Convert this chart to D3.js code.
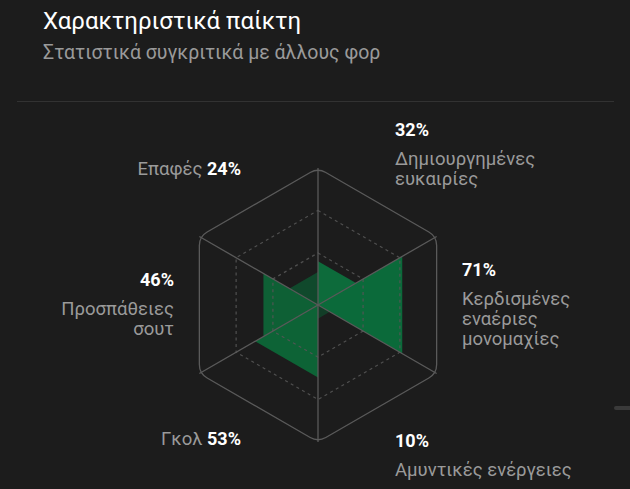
<!DOCTYPE html>
<html>
<head>
<meta charset="utf-8">
<script src="https://cdn.jsdelivr.net/npm/d3@7"></script>
<style>
  html, body { margin: 0; padding: 0; background: #1c1c1c; }
  svg { display: block; }
  text { font-family: Roboto, "Noto Sans", sans-serif; }
</style>
</head>
<body>
<svg id="chart" width="630" height="489"></svg>
<script>
// ---- data ----
const title = "Χαρακτηριστικά παίκτη";
const subtitle = "Στατιστικά συγκριτικά με άλλους φορ";
const categories = [
  "Δημιουργημένες ευκαιρίες",
  "Κερδισμένες εναέριες μονομαχίες",
  "Αμυντικές ενέργειες",
  "Γκολ",
  "Προσπάθειες σουτ",
  "Επαφές"
];
const labelLines = [
  ["Δημιουργημένες", "ευκαιρίες"],
  ["Κερδισμένες", "εναέριες", "μονομαχίες"],
  ["Αμυντικές ενέργειες"],
  ["Γκολ"],
  ["Προσπάθειες", "σουτ"],
  ["Επαφές"]
];
const values = [32, 71, 10, 53, 46, 24];
const gridTicks = [38, 69];
const maxValue = 100;

// ---- styles / layout ----
const wedgeColors = ["#0d6b3b", "#0b6a3a", "#123d27", "#0d6336", "#0e6035", "#10492c"];
const inlineLabel = [false, false, false, true, false, true];
const W = 630, H = 489;
const cx = 318, cy = 305;
const R = 137;
const labelR = 144;

const svg = d3.select("#chart");
svg.append("rect").attr("width", W).attr("height", H).attr("fill", "#1c1c1c");

// header
svg.append("text").attr("x", 43).attr("y", 29)
  .attr("fill", "#ffffff").attr("font-size", 24).text(title);
svg.append("text").attr("x", 43).attr("y", 59)
  .attr("fill", "#9a9a9a").attr("font-size", 19.5).text(subtitle);
svg.append("line").attr("x1", 17).attr("x2", 614).attr("y1", 101.5).attr("y2", 101.5)
  .attr("stroke", "#323232").attr("stroke-width", 1);

// decorative pager bar at right edge
svg.append("rect").attr("x", 614).attr("y", 406).attr("width", 20).attr("height", 4)
  .attr("rx", 2).attr("fill", "#3a3a3a");

const r = d3.scaleLinear().domain([0, maxValue]).range([0, R]);
const n = categories.length;
const step = 2 * Math.PI / n;
const pt = (ang, rad) => [cx + rad * Math.sin(ang), cy - rad * Math.cos(ang)];

const g = svg.append("g");

// wedges
g.selectAll("path.wedge").data(values).join("path")
  .attr("class", "wedge")
  .attr("d", (v, i) => {
    const a0 = i * step, a1 = (i + 1) * step;
    return d3.line()([[cx, cy], pt(a0, r(v)), pt(a1, r(v))]) + "Z";
  })
  .attr("fill", (v, i) => wedgeColors[i]);

// dashed grid hexagons
gridTicks.forEach(t => {
  const pts = d3.range(n).map(k => pt(k * step, r(t)));
  g.append("path")
    .attr("d", d3.line().curve(d3.curveLinearClosed)(pts))
    .attr("fill", "none").attr("stroke", "#555").attr("stroke-width", 1.2)
    .attr("stroke-dasharray", "3,3.5").attr("opacity", 0.9);
});

// axes
g.selectAll("line.axis").data(d3.range(n)).join("line")
  .attr("class", "axis")
  .attr("x1", cx).attr("y1", cy)
  .attr("x2", k => pt(k * step, r(maxValue))[0])
  .attr("y2", k => pt(k * step, r(maxValue))[1])
  .attr("stroke", "#5a5a5a").attr("stroke-width", 1.3);

// outer hexagon with rounded corners
(function () {
  const rc = 9;
  const verts = d3.range(n).map(k => pt(k * step, r(maxValue)));
  const path = d3.path();
  verts.forEach((v, k) => {
    const prev = verts[(k + n - 1) % n], next = verts[(k + 1) % n];
    const d1 = Math.hypot(prev[0] - v[0], prev[1] - v[1]);
    const d2 = Math.hypot(next[0] - v[0], next[1] - v[1]);
    const p1 = [v[0] + (prev[0] - v[0]) * rc / d1, v[1] + (prev[1] - v[1]) * rc / d1];
    const p2 = [v[0] + (next[0] - v[0]) * rc / d2, v[1] + (next[1] - v[1]) * rc / d2];
    if (k === 0) path.moveTo(p1[0], p1[1]); else path.lineTo(p1[0], p1[1]);
    path.quadraticCurveTo(v[0], v[1], p2[0], p2[1]);
  });
  path.closePath();
  g.append("path").attr("d", path.toString())
    .attr("fill", "none").attr("stroke", "#5a5a5a").attr("stroke-width", 1.3);
})();

// labels (one text element per line)
const valueSize = 18, descSize = 18.5, firstGap = 29, lineGap = 20;
categories.forEach((c, i) => {
  const ang = (i + 0.5) * step;
  const [ax, ay] = pt(ang, labelR);
  const s = Math.sin(ang), co = Math.cos(ang);
  const side = s > 0.01 ? 1 : -1;
  const diag = Math.abs(co) > 0.1;
  const x = ax + (diag ? side * 5 : 0);
  const anchor = side > 0 ? "start" : "end";
  const lines = labelLines[i];
  const pct = values[i] + "%";
  if (inlineLabel[i]) {
    const base = co > 0 ? ay - 5 : ay + 15;
    const t = svg.append("text").attr("text-anchor", anchor).attr("x", x).attr("y", base);
    t.append("tspan").attr("fill", "#9a9a9a").attr("font-size", descSize).text(lines.join(" ") + " ");
    t.append("tspan").attr("fill", "#ffffff").attr("font-weight", "bold").attr("font-size", valueSize).text(pct);
  } else {
    const span = firstGap + (lines.length - 1) * lineGap; // first baseline -> last baseline
    let first;
    if (co > 0.1) first = ay + 5 - span;            // upper: bottom aligned
    else if (co < -0.1) first = ay + 17;            // lower: top aligned
    else first = ((ay + 1.5) * 2 + 13 - 5 - span) / 2; // side: centred
    svg.append("text").attr("text-anchor", anchor).attr("x", x).attr("y", first)
      .attr("fill", "#ffffff").attr("font-weight", "bold").attr("font-size", valueSize).text(pct);
    lines.forEach((ln, j) => {
      svg.append("text").attr("text-anchor", anchor).attr("x", x).attr("y", first + firstGap + j * lineGap)
        .attr("fill", "#9a9a9a").attr("font-size", descSize).text(ln);
    });
  }
});
</script>
</body>
</html>
